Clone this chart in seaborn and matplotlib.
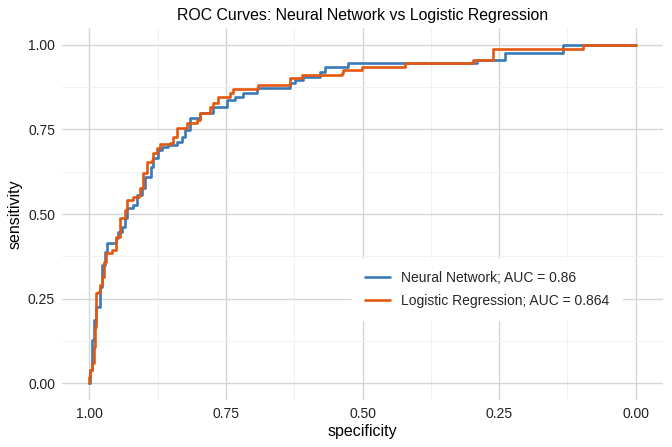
#!/usr/bin/env python3
import numpy as np
import pandas as pd
import matplotlib
matplotlib.use("Agg")
import matplotlib.pyplot as plt
from matplotlib.ticker import MultipleLocator
import seaborn as sns

# ROC points (specificity, sensitivity)
nn_spec = [1.000, 0.998, 0.995, 0.991, 0.987, 0.980, 0.976, 0.971, 0.967, 0.956,
           0.952, 0.947, 0.940, 0.934, 0.931, 0.920, 0.912, 0.903, 0.898, 0.888,
           0.883, 0.874, 0.867, 0.856, 0.839, 0.830, 0.824, 0.815, 0.797, 0.773,
           0.748, 0.733, 0.718, 0.693, 0.633, 0.623, 0.609, 0.578, 0.569, 0.527,
           0.291, 0.254, 0.239, 0.133, 0.000]
nn_sens = [0.000, 0.038, 0.127, 0.186, 0.225, 0.284, 0.349, 0.388, 0.414, 0.414,
           0.429, 0.447, 0.462, 0.488, 0.518, 0.527, 0.556, 0.577, 0.609, 0.639,
           0.666, 0.689, 0.698, 0.704, 0.713, 0.728, 0.749, 0.784, 0.799, 0.817,
           0.837, 0.846, 0.858, 0.873, 0.888, 0.896, 0.905, 0.920, 0.935, 0.947,
           0.956, 0.956, 0.976, 1.000, 1.000]

lr_spec = [1.000, 1.000, 0.998, 0.995, 0.991, 0.989, 0.987, 0.984, 0.980, 0.976,
           0.974, 0.969, 0.958, 0.952, 0.943, 0.934, 0.931, 0.921, 0.910, 0.907,
           0.901, 0.894, 0.885, 0.883, 0.876, 0.870, 0.852, 0.846, 0.839, 0.821,
           0.803, 0.797, 0.779, 0.773, 0.764, 0.742, 0.737, 0.691, 0.636, 0.633,
           0.611, 0.537, 0.536, 0.501, 0.422, 0.298, 0.261, 0.097, 0.000]
lr_sens = [0.000, 0.018, 0.038, 0.059, 0.107, 0.166, 0.266, 0.269, 0.290, 0.314,
           0.358, 0.385, 0.393, 0.432, 0.488, 0.512, 0.541, 0.550, 0.556, 0.577,
           0.621, 0.654, 0.660, 0.680, 0.695, 0.707, 0.710, 0.728, 0.754, 0.769,
           0.778, 0.799, 0.817, 0.828, 0.846, 0.858, 0.870, 0.882, 0.882, 0.902,
           0.911, 0.917, 0.926, 0.935, 0.947, 0.956, 0.988, 1.000, 1.000]

labels = ["Neural Network; AUC = 0.86", "Logistic Regression; AUC = 0.864"]
colors = ["#3a7ab8", "#e4570f"]


def main():
    df = pd.concat([
        pd.DataFrame({"specificity": nn_spec, "sensitivity": nn_sens, "model": labels[0]}),
        pd.DataFrame({"specificity": lr_spec, "sensitivity": lr_sens, "model": labels[1]}),
    ], ignore_index=True)

    sns.set_theme(style="whitegrid")
    plt.rcParams['font.family'] = ['Liberation Sans', 'DejaVu Sans']

    fig = plt.figure(figsize=(6.72, 4.47), dpi=100)
    ax = fig.add_axes([0.0923, 0.1051, 0.8943, 0.8323])

    sns.lineplot(data=df, x="specificity", y="sensitivity", hue="model",
                 palette=colors, hue_order=labels, sort=False, estimator=None,
                 drawstyle="steps-post", linewidth=1.9, ax=ax)

    ax.set_xlim(1.05, -0.05)
    ax.set_ylim(-0.05, 1.05)
    ax.xaxis.set_major_locator(MultipleLocator(0.25))
    ax.yaxis.set_major_locator(MultipleLocator(0.25))
    ax.xaxis.set_minor_locator(MultipleLocator(0.125))
    ax.yaxis.set_minor_locator(MultipleLocator(0.125))
    ax.xaxis.set_major_formatter(matplotlib.ticker.FormatStrFormatter('%.2f'))
    ax.yaxis.set_major_formatter(matplotlib.ticker.FormatStrFormatter('%.2f'))

    ax.set_facecolor("white")
    ax.grid(which="major", color="#d6d6d6", linewidth=1.0)
    ax.grid(which="minor", color="#efefef", linewidth=0.6)
    for s in ax.spines.values():
        s.set_visible(False)
    ax.tick_params(which="both", length=0, labelsize=10, colors="#222222", pad=5)

    ax.set_xlabel("specificity", fontsize=11.5, color="black", labelpad=2)
    ax.set_ylabel("sensitivity", fontsize=11.5, color="black", labelpad=4)
    ax.set_title("ROC Curves: Neural Network vs Logistic Regression",
                 fontsize=11.4, color="black", pad=6)

    leg = ax.legend(title=None, loc="center", bbox_to_anchor=(0.707, 0.297),
                    frameon=True, fontsize=10, handlelength=1.8,
                    borderpad=0.9, labelspacing=0.6, fancybox=False)
    leg.get_frame().set_facecolor("white")
    leg.get_frame().set_edgecolor("white")
    leg.get_frame().set_alpha(1.0)

    fig.savefig("out.png", dpi=100, facecolor="white")
    plt.close(fig)


if __name__ == "__main__":
    main()
